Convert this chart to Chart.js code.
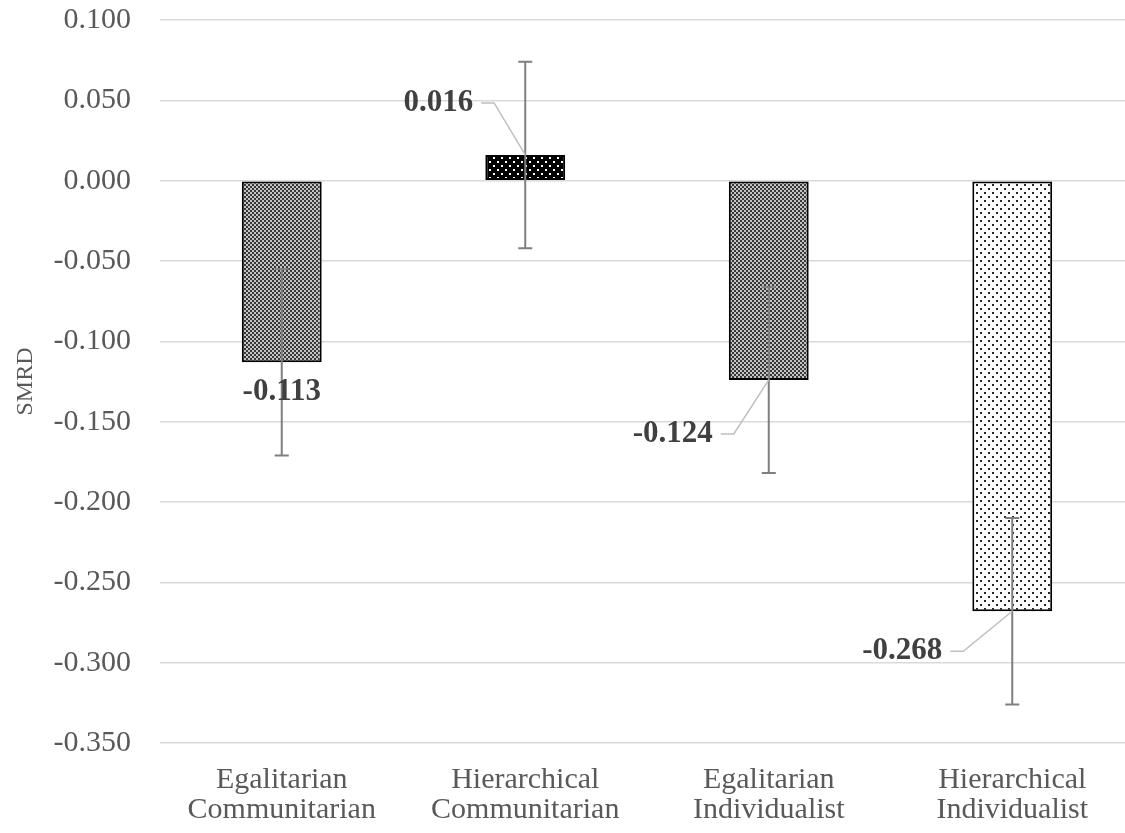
<!DOCTYPE html>
<html>
<head>
<meta charset="utf-8">
<script src="https://cdn.jsdelivr.net/npm/chart.js@4/dist/chart.umd.min.js"></script>
<style>
  html, body { margin: 0; padding: 0; background: #fff; overflow: hidden; }
  #wrap { width: 1134px; height: 833px; }
</style>
</head>
<body>
<div id="wrap"><canvas id="myChart"></canvas></div>
<script>
var categories = [
	['Egalitarian', 'Communitarian'],
	['Hierarchical', 'Communitarian'],
	['Egalitarian', 'Individualist'],
	['Hierarchical', 'Individualist']
];
var smrd = [-0.113, 0.016, -0.124, -0.268];
var errUp = [0.058, 0.058, 0.058, 0.058];
var errDown = [0.058, 0.058, 0.058, 0.058];
var yMin = -0.35, yMax = 0.1, yStep = 0.05;

var serif = '"Liberation Serif", "Times New Roman", serif';

// little tiles for the Excel-like fill patterns
function makePattern(w, h, bg, fg, dots) {
	var c = document.createElement('canvas');
	c.width = w; c.height = h;
	var g = c.getContext('2d');
	g.fillStyle = bg;
	g.fillRect(0, 0, w, h);
	g.fillStyle = fg;
	dots.forEach(function (d) { g.fillRect(d[0], d[1], d[2], d[3]); });
	return document.getElementById('myChart').getContext('2d').createPattern(c, 'repeat');
}

var checker = makePattern(4, 4, '#c4c4c4', '#383838', [[0, 0, 2, 2], [2, 2, 2, 2]]);
var blackDots = makePattern(8, 8, '#000000', '#ffffff', [[1, 1, 2, 2], [5, 5, 2, 2]]);
var whiteDots = makePattern(8, 8, '#ffffff', '#262626', [[0, 0, 2, 2], [4, 4, 2, 2]]);
var fills = [checker, blackDots, checker, whiteDots];

// where each value label sits relative to the end of its bar
var labelPos = [
	{ dx: 0, dy: 30, leader: false },
	{ dx: -87, dy: -52, leader: true },
	{ dx: -96, dy: 54, leader: true },
	{ dx: -110, dy: 40, leader: true }
];

var errorBarsAndLabels = {
	id: 'errorBarsAndLabels',
	afterDatasetsDraw: function (chart) {
		var ctx = chart.ctx;
		var y = chart.scales.y;
		var meta = chart.getDatasetMeta(0);
		ctx.save();
		meta.data.forEach(function (bar, i) {
			var x = bar.x;
			var top = y.getPixelForValue(smrd[i] + errUp[i]);
			var bot = y.getPixelForValue(smrd[i] - errDown[i]);
			ctx.strokeStyle = '#7f7f7f';
			ctx.lineWidth = 2;
			ctx.beginPath();
			ctx.moveTo(x, top); ctx.lineTo(x, bot);
			ctx.moveTo(x - 7, top); ctx.lineTo(x + 7, top);
			ctx.moveTo(x - 7, bot); ctx.lineTo(x + 7, bot);
			ctx.stroke();
		});
		ctx.font = 'bold 31px ' + serif;
		ctx.textAlign = 'center';
		ctx.textBaseline = 'middle';
		meta.data.forEach(function (bar, i) {
			var txt = smrd[i].toFixed(3);
			var p = labelPos[i];
			var lx = bar.x + p.dx, ly = bar.y + p.dy;
			if (p.leader) {
				var w = ctx.measureText(txt).width;
				var sx = lx + w / 2 + 8;
				ctx.strokeStyle = '#bfbfbf';
				ctx.lineWidth = 1.5;
				ctx.beginPath();
				ctx.moveTo(sx, ly);
				ctx.lineTo(sx + 13, ly);
				ctx.lineTo(bar.x, bar.y);
				ctx.stroke();
			}
			ctx.fillStyle = '#404040';
			ctx.fillText(txt, lx, ly);
		});
		ctx.restore();
	}
};

var chart = new Chart(document.getElementById('myChart').getContext('2d'), {
	type: 'bar',
	data: {
		labels: categories,
		datasets: [{
			label: 'SMRD',
			data: smrd,
			backgroundColor: fills,
			borderColor: '#000000',
			borderWidth: 2,
			borderSkipped: false,
			categoryPercentage: 1,
			barPercentage: 0.328
		}]
	},
	options: {
		responsive: true,
		maintainAspectRatio: false,
		animation: false,
		layout: { padding: { top: 20, left: 0, right: 0, bottom: 0 } },
		plugins: {
			legend: { display: false },
			tooltip: { enabled: false }
		},
		scales: {
			x: {
				grid: { display: false, drawTicks: false },
				border: { display: false },
				ticks: {
					color: '#595959',
					padding: 22,
					font: { family: serif, size: 30, lineHeight: 1.0 }
				},
				afterFit: function (s) { s.height = 90; }
			},
			y: {
				min: yMin,
				max: yMax,
				grid: { color: '#d9d9d9', lineWidth: 1.5, drawTicks: false },
				border: { display: false },
				ticks: {
					stepSize: yStep,
					color: '#595959',
					padding: 29,
					font: { family: serif, size: 30, lineHeight: 1.0 },
					callback: function (v) { return v.toFixed(3); }
				},
				title: {
					display: true,
					text: 'SMRD',
					color: '#595959',
					padding: { top: 11, bottom: 0 },
					font: { family: serif, size: 24 }
				},
				afterFit: function (s) {
					s.width = 160;
					s.paddingTop = 0;
					s.paddingBottom = 0;
				}
			}
		}
	},
	plugins: [errorBarsAndLabels]
});
</script>
</body>
</html>
